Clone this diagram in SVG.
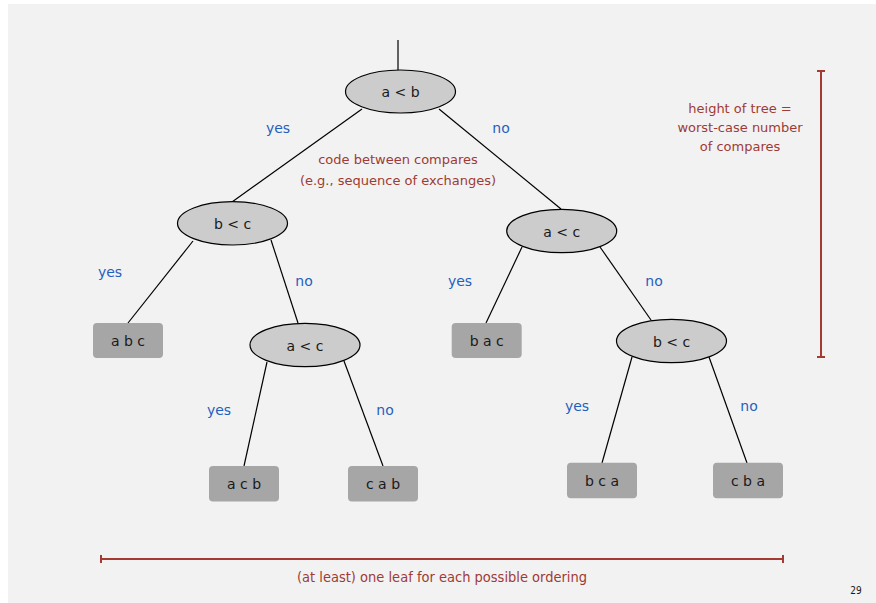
<svg xmlns="http://www.w3.org/2000/svg" width="876" height="603" viewBox="0 0 876 603">
<style>
.bg{fill:#f2f2f2}
.cmp{fill:#cccccc;stroke:#000;stroke-width:1.2}
.leaf{fill:#a6a6a6}
.t{font-family:"DejaVu Sans","Liberation Sans",sans-serif;font-size:14px;fill:#1a1a1a;text-anchor:middle}
.lbl{font-family:"DejaVu Sans","Liberation Sans",sans-serif;font-size:14px;fill:#1f5fbf;text-anchor:middle}
.note{font-family:"DejaVu Sans","Liberation Sans",sans-serif;font-size:13px;fill:#9e3b34;text-anchor:middle}
.cond{font-family:"DejaVu Sans Condensed","DejaVu Sans","Liberation Sans Narrow",sans-serif;font-size:14.5px;fill:#9e3b34;text-anchor:middle}
.edge{stroke:#000;stroke-width:1.2;fill:none}
.bar{stroke:#a33b32;stroke-width:2;fill:none}
</style>
<rect class="bg" x="8" y="4" width="868" height="599"/>
<g id="connectors">
<line class="edge" x1="398" y1="40" x2="398" y2="70"/>
<line class="edge" x1="362" y1="109" x2="232" y2="202"/>
<line class="edge" x1="439" y1="109" x2="561" y2="209"/>
<line class="edge" x1="193" y1="241" x2="128" y2="323"/>
<line class="edge" x1="271" y1="240" x2="298" y2="323"/>
<line class="edge" x1="267" y1="362" x2="244" y2="466"/>
<line class="edge" x1="344" y1="361" x2="383" y2="466"/>
<line class="edge" x1="522" y1="247" x2="486" y2="323"/>
<line class="edge" x1="600" y1="247" x2="651" y2="320"/>
<line class="edge" x1="632" y1="357" x2="602" y2="463"/>
<line class="edge" x1="709" y1="357" x2="747" y2="463"/>
</g>
<g id="edge-labels">
<text class="lbl" x="278" y="133">yes</text>
<text class="lbl" x="501" y="133">no</text>
<text class="lbl" x="110" y="277">yes</text>
<text class="lbl" x="304" y="286">no</text>
<text class="lbl" x="460" y="286">yes</text>
<text class="lbl" x="654" y="286">no</text>
<text class="lbl" x="219" y="415">yes</text>
<text class="lbl" x="385" y="415">no</text>
<text class="lbl" x="577" y="411">yes</text>
<text class="lbl" x="749" y="411">no</text>
</g>
<g id="n-root"><ellipse class="cmp" cx="400.5" cy="91.5" rx="55" ry="21.5"/><text class="t" x="400.5" y="97">a &lt; b</text></g>
<g id="n-bc1"><ellipse class="cmp" cx="232.5" cy="223.3" rx="55" ry="21.7"/><text class="t" x="232.5" y="229">b &lt; c</text></g>
<g id="n-ac1"><ellipse class="cmp" cx="561.7" cy="231" rx="55" ry="21.7"/><text class="t" x="561.7" y="236.5">a &lt; c</text></g>
<g id="n-ac2"><ellipse class="cmp" cx="305" cy="345" rx="55" ry="21.7"/><text class="t" x="305" y="350.5">a &lt; c</text></g>
<g id="n-bc2"><ellipse class="cmp" cx="671.5" cy="341" rx="55" ry="21.7"/><text class="t" x="671.5" y="346.5">b &lt; c</text></g>
<g id="leaf-abc"><rect class="leaf" x="93" y="323" width="70" height="35" rx="4"/><text class="t" x="128" y="346">a b c</text></g>
<g id="leaf-acb"><rect class="leaf" x="209" y="466" width="70" height="35.5" rx="4"/><text class="t" x="244" y="489">a c b</text></g>
<g id="leaf-cab"><rect class="leaf" x="348" y="466" width="70" height="35.5" rx="4"/><text class="t" x="383" y="489">c a b</text></g>
<g id="leaf-bac"><rect class="leaf" x="451.7" y="323" width="70" height="35" rx="4"/><text class="t" x="486.7" y="346">b a c</text></g>
<g id="leaf-bca"><rect class="leaf" x="567" y="462.7" width="70" height="35.5" rx="4"/><text class="t" x="602" y="485.5">b c a</text></g>
<g id="leaf-cba"><rect class="leaf" x="713" y="462.7" width="70" height="35.5" rx="4"/><text class="t" x="748" y="485.5">c b a</text></g>
<g id="notes">
<text class="note" x="398" y="164">code between compares</text>
<text class="note" x="398" y="185">(e.g., sequence of exchanges)</text>
<text class="note" x="740" y="113">height of tree =</text>
<text class="note" x="740" y="132">worst-case number</text>
<text class="note" x="740" y="151">of compares</text>
<path class="bar" d="M817 71H825M821 71V357M817 357H825"/>
<path class="bar" d="M101 555V563M101 559H783M783 555V563"/>
<text class="cond" x="442" y="582">(at least) one leaf for each possible ordering</text>
<text x="856" y="594" style="font-family:'DejaVu Sans Condensed','DejaVu Sans',sans-serif;font-size:10px;fill:#1a1a1a" text-anchor="middle">29</text>
</g>
</svg>
